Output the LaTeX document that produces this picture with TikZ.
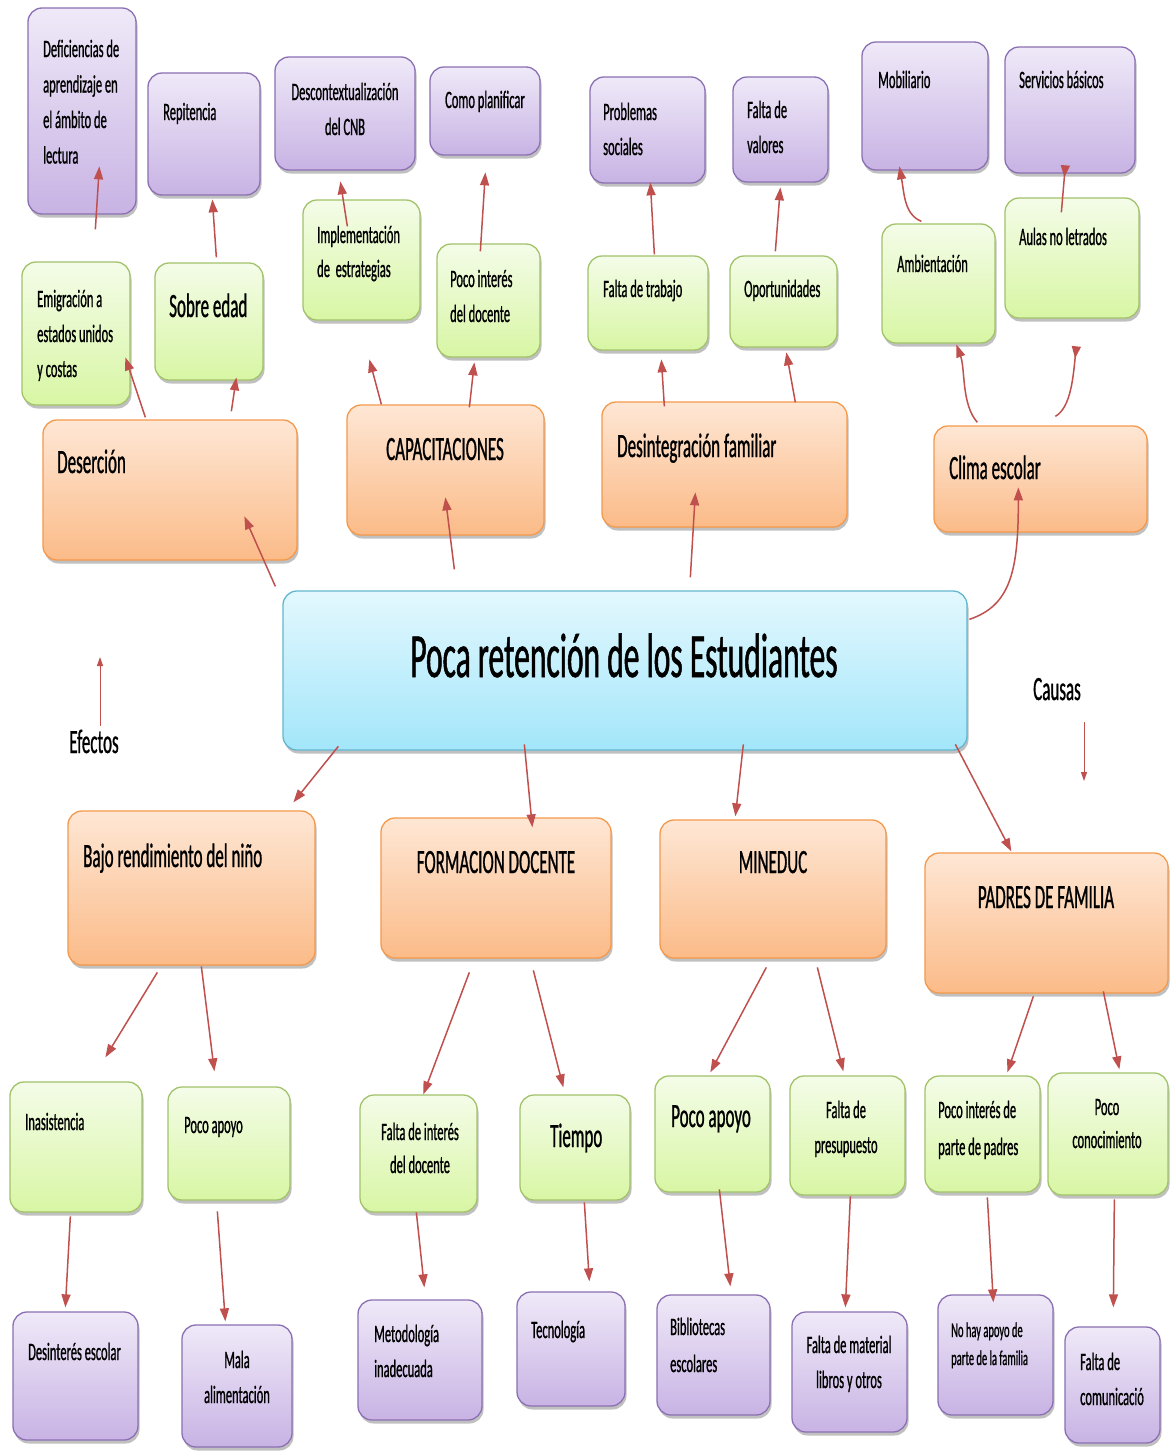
\documentclass[tikz,border=0pt]{standalone}
\usepackage{fontspec}
\setmainfont{Carlito}[FakeStretch=0.5,FakeBold=0.8]
\usetikzlibrary{arrows.meta,shadows,fit}
\definecolor{purT}{HTML}{EFE9F8}
\definecolor{purB}{HTML}{C8B3E4}
\definecolor{purD}{HTML}{8B70B3}
\definecolor{grnT}{HTML}{F4FCE8}
\definecolor{grnB}{HTML}{D8F6A4}
\definecolor{grnD}{HTML}{A2C36A}
\definecolor{orgT}{HTML}{FEE7D5}
\definecolor{orgB}{HTML}{FBBB88}
\definecolor{orgD}{HTML}{F5994C}
\definecolor{bluT}{HTML}{E3F8FE}
\definecolor{bluB}{HTML}{A3E6FA}
\definecolor{bluD}{HTML}{62B7CF}
\definecolor{arrC}{HTML}{C0504D}
\newcommand\LL[1]{\vtop{\halign{##\hfil\cr#1\crcr}}}
\newcommand\CL[1]{\vtop{\halign{\hfil##\hfil\cr#1\crcr}}}
\newcommand\bx[6]{\node[#1, fit={(#3,#4) (#5,#6)}] (#2) {};}
\newcommand\cnx[6]{\draw[arr] ([shift={(#2,#3)}]#1.north west) -- ([shift={(#5,#6)}]#4.north west);}
\tikzset{
  boxbase/.style={draw, line width=1.3pt, rounded corners=14pt, inner sep=0pt,
    drop shadow={shadow xshift=1.5pt, shadow yshift=-3.5pt, fill=black!70, opacity=0.35}},
  pur/.style={boxbase, draw=purD, top color=purT, bottom color=purB},
  grn/.style={boxbase, draw=grnD, top color=grnT, bottom color=grnB},
  org/.style={boxbase, draw=orgD, top color=orgT, bottom color=orgB},
  blu/.style={boxbase, draw=bluD, top color=bluT, bottom color=bluB},
  arr/.style={draw=arrC, line width=1.5pt, -{Triangle[length=13pt,width=9pt]}},
  arrR/.style={draw=arrC, line width=1.5pt, -{Triangle[reversed,length=12pt,width=9pt]}},
  arrthin/.style={draw=arrC, line width=1pt, -{Triangle[length=9pt,width=6pt]}},
  sm/.style={inner sep=0pt, font=\fontsize{25}{35}\selectfont},
  xs/.style={inner sep=0pt, font=\fontsize{21}{28}\selectfont},
  md/.style={inner sep=0pt, font=\fontsize{34}{40}\selectfont},
  bg/.style={inner sep=0pt, font=\fontsize{63}{70}\selectfont},
}
\begin{document}
\begin{tikzpicture}[x=1pt,y=-1pt]
\fill[white] (0,0) rectangle (1173,1451);
\useasboundingbox (0,0) rectangle (1173,1451);
% ---- boxes ----
\bx{pur}{def}{28}{8}{136}{214}
\bx{pur}{rep}{148}{73}{260}{195}
\bx{pur}{desc}{275}{57}{415}{170}
\bx{pur}{como}{430}{67}{540}{155}
\bx{pur}{prob}{590}{77}{705}{183}
\bx{pur}{falv}{733}{77}{828}{182}
\bx{pur}{mob}{862}{42}{988}{170}
\bx{pur}{serv}{1005}{47}{1135}{173}
\bx{grn}{emig}{22}{262}{130}{405}
\bx{grn}{sobre}{155}{263}{263}{380}
\bx{grn}{impl}{303}{200}{420}{320}
\bx{grn}{pint}{437}{244}{540}{357}
\bx{grn}{ftrab}{588}{256}{708}{350}
\bx{grn}{oport}{730}{256}{837}{347}
\bx{grn}{amb}{882}{224}{995}{343}
\bx{grn}{aulas}{1005}{198}{1139}{318}
\bx{org}{deser}{43}{420}{297}{560}
\bx{org}{capa}{347}{405}{544}{535}
\bx{org}{desin}{602}{402}{847}{527}
\bx{org}{clima}{934}{426}{1147}{532}
\bx{blu}{main}{283}{591}{967}{750}
\bx{org}{bajo}{68}{811}{315}{965}
\bx{org}{form}{381}{818}{611}{958}
\bx{org}{mine}{660}{820}{886}{958}
\bx{org}{padres}{925}{853}{1168}{993}
\bx{grn}{inas}{10}{1082}{142}{1212}
\bx{grn}{papo}{168}{1087}{290}{1200}
\bx{grn}{fint}{360}{1095}{477}{1212}
\bx{grn}{tiem}{520}{1095}{630}{1200}
\bx{grn}{papob}{655}{1076}{770}{1192}
\bx{grn}{fpres}{790}{1076}{905}{1195}
\bx{grn}{pipad}{925}{1076}{1040}{1192}
\bx{grn}{pcon}{1048}{1073}{1168}{1195}
\bx{pur}{desint}{13}{1312}{138}{1440}
\bx{pur}{mala}{182}{1325}{292}{1447}
\bx{pur}{meto}{358}{1300}{482}{1420}
\bx{pur}{tecn}{517}{1292}{625}{1406}
\bx{pur}{bibl}{657}{1295}{770}{1415}
\bx{pur}{fmat}{792}{1312}{907}{1432}
\bx{pur}{nohay}{938}{1295}{1053}{1415}
\bx{pur}{fcom}{1065}{1327}{1160}{1443}
% ---- texts ----
\node[sm,anchor=base west,font=\fontsize{25}{35.5}\selectfont] (tdef) at (43,57) {\LL{Deficiencias de\cr aprendizaje en\cr el ámbito de\cr lectura}};
\node[sm,anchor=base west] (trep) at (163,120) {Repitencia};
\node[sm,anchor=base] (tdesc) at (345,100) {\CL{Descontextualización\cr del CNB}};
\node[sm,anchor=base] (tcomo) at (485,108) {Como planificar};
\node[sm,anchor=base west] (tprob) at (603,120) {\LL{Problemas\cr sociales}};
\node[sm,anchor=base west] (tfalv) at (747,118) {\LL{Falta de\cr valores}};
\node[sm,anchor=base west] (tmob) at (878,88) {Mobiliario};
\node[sm,anchor=base west] (tserv) at (1019,88) {Servicios básicos};
\node[sm,anchor=base west] (temig) at (37,307) {\LL{Emigración a\cr estados unidos\cr y costas}};
\node[md,anchor=base west] (tsobre) at (169,317) {Sobre edad};
\node[sm,anchor=base west,font=\fontsize{25}{34}\selectfont] (timpl) at (317,243) {\LL{Implementación\cr de\ \ estrategias}};
\node[sm,anchor=base west] (tpint) at (450,287) {\LL{Poco interés\cr del docente}};
\node[sm,anchor=base west] (tftrab) at (603,297) {Falta de trabajo};
\node[sm,anchor=base west] (toport) at (744,297) {Oportunidades};
\node[sm,anchor=base west] (tamb) at (897,272) {Ambientación};
\node[sm,anchor=base west] (taulas) at (1019,245) {Aulas no letrados};
\node[md,anchor=base west] (tdeser) at (57,473) {Deserción};
\node[md,anchor=base] (tcapa) at (445,460) {CAPACITACIONES};
\node[md,anchor=base west] (tdesin) at (617,457) {Desintegración familiar};
\node[md,anchor=base west] (tclima) at (949,479) {Clima escolar};
\node[bg,anchor=base] (tmain) at (624,677) {Poca retención de los Estudiantes};
\node[md,anchor=base] (efectos) at (94,753) {Efectos};
\node[md,anchor=base] (causas) at (1057,700) {Causas};
\node[md,anchor=base west] (tbajo) at (83,867) {Bajo rendimiento del niño};
\node[md,anchor=base] (tform) at (496,873) {FORMACION DOCENTE};
\node[md,anchor=base] (tmine) at (773,873) {MINEDUC};
\node[md,anchor=base] (tpadres) at (1046,908) {PADRES DE FAMILIA};
\node[sm,anchor=base west] (tinas) at (25,1130) {Inasistencia};
\node[sm,anchor=base west] (tpapo) at (184,1133) {Poco apoyo};
\node[sm,anchor=base,font=\fontsize{25}{33}\selectfont] (tfint) at (420,1140) {\CL{Falta de interés\cr del docente}};
\node[md,anchor=base west] (ttiem) at (550,1147) {Tiempo};
\node[md,anchor=base west] (tpapob) at (671,1127) {Poco apoyo};
\node[sm,anchor=base] (tfpres) at (846,1118) {\CL{Falta de\cr presupuesto}};
\node[sm,anchor=base west,font=\fontsize{25}{37}\selectfont] (tpipad) at (938,1118) {\LL{Poco interés de\cr parte de padres}};
\node[sm,anchor=base,font=\fontsize{25}{33}\selectfont] (tpcon) at (1107,1115) {\CL{Poco\cr conocimiento}};
\node[sm,anchor=base west] (tdesint) at (28,1360) {Desinterés escolar};
\node[sm,anchor=base] (tmala) at (237,1368) {\CL{Mala\cr alimentación}};
\node[sm,anchor=base west] (tmeto) at (374,1342) {\LL{Metodología\cr inadecuada}};
\node[sm,anchor=base west] (ttecn) at (531,1338) {Tecnología};
\node[sm,anchor=base west,font=\fontsize{25}{37}\selectfont] (tbibl) at (670,1335) {\LL{Bibliotecas\cr escolares}};
\node[sm,anchor=base] (tfmat) at (849,1353) {\CL{Falta de material\cr libros y otros}};
\node[xs,anchor=base west] (tnohay) at (951,1337) {\LL{No hay apoyo de\cr parte de la familia}};
\node[sm,anchor=base west] (tfcom) at (1080,1370) {\LL{Falta de\cr comunicació}};
% ---- connectors (upper) ----
\cnx{emig}{74}{-32}{def}{72}{159}
\cnx{sobre}{62}{-5}{rep}{65}{127}
\cnx{impl}{45}{27}{desc}{66}{125}
\cnx{pint}{44}{8}{como}{56}{106}
\cnx{ftrab}{67}{-1}{prob}{61}{106}
\cnx{oport}{46}{-4}{falv}{48}{111}
\draw[arr] ([shift={(40,-2)}]amb.north west) .. controls ([shift={(23,-9)}]amb.north west) and ([shift={(43,153)}]mob.north west) .. ([shift={(38,125)}]mob.north west);
\draw[arrR] ([shift={(57,15)}]aulas.north west) -- ([shift={(61,119)}]serv.north west);
\draw[arr] ([shift={(44,-3)}]clima.north west) .. controls ([shift={(28,-21)}]clima.north west) and ([shift={(84,146)}]amb.north west) .. ([shift={(75,121)}]amb.north west);
\draw[arrR] ([shift={(122,-9)}]clima.north west) .. controls ([shift={(138,-18)}]clima.north west) and ([shift={(69,177)}]aulas.north west) .. ([shift={(72,149)}]aulas.north west);
\cnx{deser}{103}{-2}{emig}{104}{96}
\cnx{deser}{189}{-8}{sobre}{82}{115}
\cnx{capa}{35}{0}{impl}{67}{160}
\cnx{capa}{123}{3}{pint}{38}{119}
\cnx{desin}{63}{5}{ftrab}{74}{104}
\cnx{desin}{194}{1}{oport}{57}{97}
\cnx{main}{-7}{-4}{deser}{202}{97}
\cnx{main}{172}{-21}{capa}{99}{93}
\cnx{main}{408}{-13}{desin}{94}{91}
\draw[arr] ([shift={(687,29)}]main.north west) .. controls ([shift={(729,15)}]main.north west) and ([shift={(85,144)}]clima.north west) .. ([shift={(85,62)}]clima.north west);
% ---- effects / causes markers ----
\coordinate (efup) at (100,657);
\coordinate (causdn) at (1084,781);
\draw[arrthin] ([shift={(6,-4)}]efectos.north) -- (efup);
\draw[arrthin] ([shift={(27,22)}]causas.south) -- (causdn);
% ---- connectors (lower) ----
\cnx{main}{56}{156}{bajo}{226}{-8}
\cnx{main}{242}{154}{form}{152}{10}
\cnx{main}{461}{154}{mine}{76}{-3}
\cnx{main}{673}{154}{padres}{87}{-1}
\cnx{bajo}{90}{162}{inas}{96}{-24}
\cnx{bajo}{134}{156}{papo}{47}{-15}
\cnx{form}{89}{155}{fint}{64}{0}
\cnx{form}{153}{153}{tiem}{44}{-7}
\cnx{mine}{107}{148}{papob}{56}{-3}
\cnx{mine}{158}{148}{fpres}{54}{-4}
\cnx{padres}{109}{144}{pipad}{83}{-3}
\cnx{padres}{179}{139}{pcon}{72}{-3}
\cnx{inas}{61}{135}{desint}{53}{-4}
\cnx{papo}{50}{125}{mala}{44}{-3}
\cnx{fint}{57}{118}{meto}{67}{-12}
\cnx{tiem}{65}{108}{tecn}{73}{-10}
\cnx{papob}{65}{114}{bibl}{74}{-8}
\cnx{fpres}{61}{121}{fmat}{54}{-4}
\cnx{pipad}{63}{122}{nohay}{56}{8}
\cnx{pcon}{67}{127}{fcom}{49}{-19}
\end{tikzpicture}
\end{document}
